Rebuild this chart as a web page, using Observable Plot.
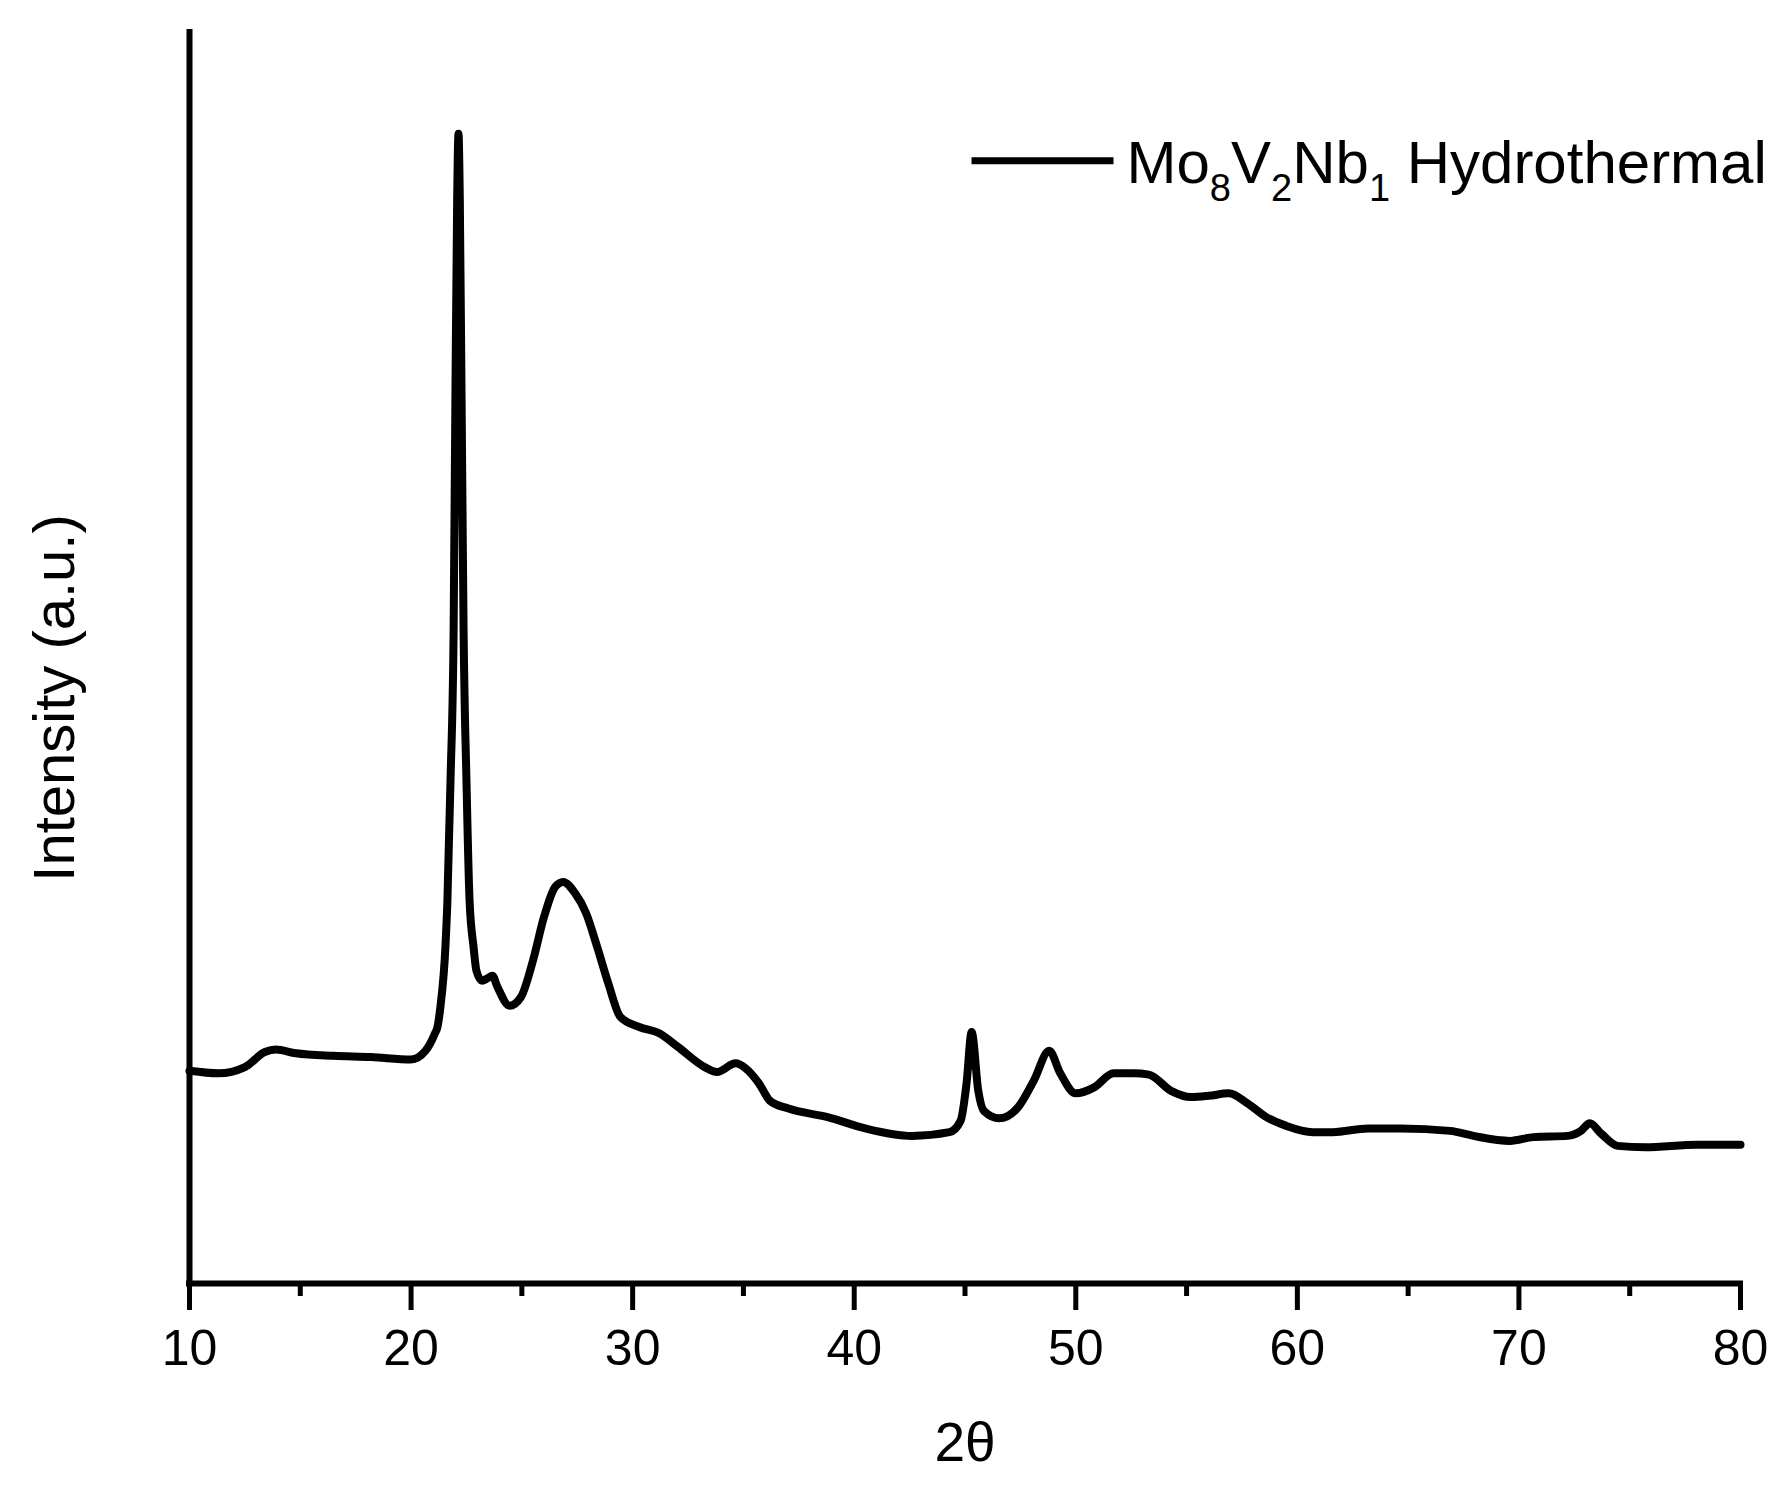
<!DOCTYPE html>
<html><head><meta charset="utf-8">
<script src="https://cdn.jsdelivr.net/npm/d3@7"></script>
<script src="https://cdn.jsdelivr.net/npm/@observablehq/plot@0.6"></script>
<style>body{margin:0;background:#fff}</style>
</head><body><div id="chart"></div>
<script>
const twoTheta = [10.0, 11.3, 12.5, 13.4, 13.9, 14.8, 16.5, 18.2, 20.0, 20.65, 21.08, 21.19, 21.33, 21.55, 21.64, 21.78, 21.92, 22.0, 22.08, 22.14, 22.2, 22.28, 22.37, 22.5, 22.64, 22.82, 22.95, 23.2, 23.45, 23.67, 23.9, 24.45, 24.96, 25.5, 26.0, 26.5, 26.86, 27.4, 27.9, 28.4, 28.9, 29.45, 30.3, 31.2, 32.05, 33.25, 33.8, 34.65, 35.1, 35.7, 36.2, 37.0, 38.8, 40.5, 42.6, 44.3, 44.8, 45.07, 45.3, 45.6, 45.85, 46.55, 47.4, 48.1, 48.8, 49.3, 50.0, 50.85, 51.7, 52.6, 53.3, 54.3, 55.2, 56.0, 56.9, 57.75, 58.6, 59.5, 60.7, 61.6, 63.2, 64.65, 66.9, 67.95, 69.6, 70.65, 72.2, 72.8, 73.2, 73.7, 74.45, 75.7, 78.06, 80.0];
const intensity = [170, 168, 173, 185, 187, 184, 182, 181, 179, 186, 200, 205, 222, 269, 306, 402, 522, 706, 866, 919, 866, 706, 522, 402, 306, 269, 250, 242, 244, 246, 237, 222, 229, 258, 293, 317, 321, 312, 296, 269, 240, 213, 205, 200, 189, 173, 169, 176, 172, 160, 146, 140, 133, 124, 118, 121, 130, 160, 201, 154, 138, 132, 141, 162, 186, 168, 152, 157, 168, 168, 167, 154, 149, 150, 152, 144, 133, 126, 121, 121, 124, 124, 122, 118, 114, 117, 118, 122, 128, 120, 110, 109, 111, 111];
const majorTicks = [10, 20, 30, 40, 50, 60, 70, 80];
const minorTicks = [15, 25, 35, 45, 55, 65, 75];
const xLabel = "2θ";
const yLabel = "Intensity (a.u.)";
const legendParts = [["Mo", false], ["8", true], ["V", false], ["2", true], ["Nb", false], ["1", true], [" Hydrothermal", false]];
const legendText = legendParts.map(d => d[0]).join("");

const data = twoTheta.map((t, i) => ({t, v: intensity[i]}));
const FONT = "'Liberation Sans', Arial, Helvetica, sans-serif";

const plot = Plot.plot({
  width: 1787,
  height: 1495,
  marginLeft: 189,
  marginRight: 47,
  marginTop: 32,
  marginBottom: 212,
  style: {fontFamily: FONT, fontSize: "50px", color: "#000", background: "#fff"},
  x: {domain: [10, 80], axis: null},
  y: {domain: [0, 1000], axis: null},
  marks: [
    Plot.axisX(majorTicks, {tickSize: 27, tickPadding: 19, strokeWidth: 5, fontSize: 50, stroke: "#000", fill: "#000", label: null, tickFormat: d => String(d)}),
    Plot.axisX(minorTicks, {tickSize: 13, strokeWidth: 5, stroke: "#000", text: null, label: null}),
    Plot.ruleY([0], {stroke: "#000", strokeWidth: 6, strokeLinecap: "square"}),
    Plot.ruleX([10], {stroke: "#000", strokeWidth: 6, strokeLinecap: "square"}),
    Plot.line(data, {x: "t", y: "v", stroke: "#000", strokeWidth: 8, strokeLinejoin: "round", curve: "monotone-x"}),
    Plot.text([yLabel], {frameAnchor: "left", textAnchor: "middle", lineAnchor: "middle", rotate: -90, dx: -134, dy: 40, fontSize: 58, fill: "#000"}),
    Plot.text([xLabel], {frameAnchor: "bottom", textAnchor: "middle", lineAnchor: "middle", dy: 160, fontSize: 55, fill: "#000"}),
    Plot.text([legendText], {frameAnchor: "top-left", textAnchor: "start", lineAnchor: "middle", dx: 937, dy: 131, fontSize: 60, fill: "#000"})
  ]
});

document.getElementById("chart").appendChild(plot);

// Build subscripts in the legend label and add the legend swatch line
const legendNode = d3.select(plot).selectAll("text").filter(function() { return this.textContent === legendText; }).node();
if (legendNode) {
  legendNode.textContent = "";
  const subShift = 18;
  let prevSub = false;
  for (const [s, sub] of legendParts) {
    const ts = d3.select(legendNode).append("tspan").text(s);
    if (sub) ts.attr("font-size", 38);
    if (sub && !prevSub) ts.attr("dy", subShift);
    if (!sub && prevSub) ts.attr("dy", -subShift);
    prevSub = sub;
  }
  const p = legendNode.getStartPositionOfChar(0);
  d3.select(legendNode.parentNode).append("line")
    .attr("transform", legendNode.getAttribute("transform"))
    .attr("x1", p.x - 155).attr("x2", p.x - 13)
    .attr("y1", p.y - 22).attr("y2", p.y - 22)
    .attr("stroke", "#000").attr("stroke-width", 7);
}
</script>
</body></html>
